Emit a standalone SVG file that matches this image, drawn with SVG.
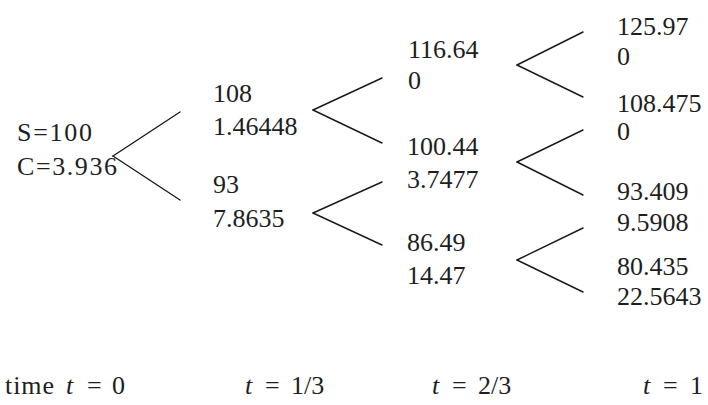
<svg xmlns="http://www.w3.org/2000/svg" width="708" height="405" viewBox="0 0 708 405">
<style>
text{font-family:"Liberation Serif","DejaVu Serif",serif;font-size:26px;fill:#1e1e1e}
.i{font-style:italic}
.c line{stroke:#1a1a1a;stroke-width:1.4;stroke-linecap:round}
</style>
<rect width="708" height="405" fill="#fff"/>
<g id="connectors" class="c">
<line x1="113" y1="156" x2="180" y2="112"/><line x1="113" y1="156" x2="180" y2="200"/>
<line x1="313" y1="110" x2="382" y2="78"/><line x1="313" y1="110" x2="382" y2="143"/>
<line x1="313" y1="213" x2="382" y2="182"/><line x1="313" y1="213" x2="382" y2="245"/>
<line x1="517" y1="65" x2="583" y2="32"/><line x1="517" y1="65" x2="583" y2="97"/>
<line x1="517" y1="162" x2="583" y2="130"/><line x1="517" y1="162" x2="583" y2="195"/>
<line x1="517" y1="260" x2="583" y2="228"/><line x1="517" y1="260" x2="583" y2="292"/>
</g>
<g id="n0"><text x="17" y="141" textLength="75">S=100</text><text x="17" y="175" textLength="100">C=3.936</text></g>
<g id="n1u"><text x="213" y="102">108</text><text x="213" y="135">1.46448</text></g>
<g id="n1d"><text x="213" y="193">93</text><text x="213" y="227">7.8635</text></g>
<g id="n2uu"><text x="408" y="58">116.64</text><text x="408" y="89">0</text></g>
<g id="n2ud"><text x="407" y="155">100.44</text><text x="407" y="188">3.7477</text></g>
<g id="n2dd"><text x="407" y="251">86.49</text><text x="407" y="284">14.47</text></g>
<g id="n3a"><text x="617" y="35">125.97</text><text x="617" y="65">0</text></g>
<g id="n3b"><text x="617" y="112">108.475</text><text x="617" y="140">0</text></g>
<g id="n3c"><text x="617" y="200">93.409</text><text x="617" y="231">9.5908</text></g>
<g id="n3d"><text x="617" y="275">80.435</text><text x="617" y="305">22.5643</text></g>
<g id="labels">
<text y="394"><tspan x="5" textLength="49">time</tspan><tspan x="66" class="i">t</tspan><tspan x="87">=</tspan><tspan x="112">0</tspan></text>
<text y="394"><tspan x="245" class="i">t</tspan><tspan x="265">=</tspan><tspan x="291">1/3</tspan></text>
<text y="394"><tspan x="432" class="i">t</tspan><tspan x="452">=</tspan><tspan x="478">2/3</tspan></text>
<text y="394"><tspan x="643" class="i">t</tspan><tspan x="663">=</tspan><tspan x="690">1</tspan></text>
</g>
</svg>
